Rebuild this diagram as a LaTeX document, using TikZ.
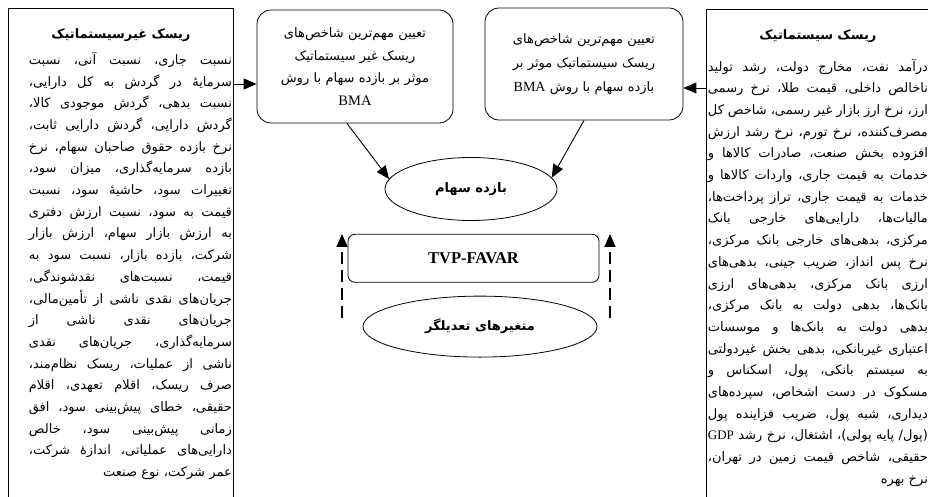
\documentclass[tikz,border=0pt]{standalone}
\usepackage{fontspec}
\setmainfont{Liberation Serif}
\newfontfamily\fa[Script=Arabic]{DejaVu Sans}
\TeXXeTstate=1
\usetikzlibrary{positioning, shapes.geometric, arrows.meta}

\newlength\padl
\newcommand\fatext[1]{\beginR#1\endR}
\newcommand\enword[1]{\beginL{\rmfamily#1}\endL{}}
\newcommand\faline[1]{\hbox to\linewidth{\spaceskip=.25em plus 1fil minus .08em\hskip\padl\beginR#1\endR}}
\newcommand\falast[1]{\hbox to\linewidth{\hfill\beginR#1\endR\rule[-30pt]{0pt}{0pt}}}
\newcommand\fahead[2]{\hbox to\linewidth{\rule{0pt}{20pt}\hfil{\bfseries\beginR#1\endR}\hfil}\vskip#2}

\begin{document}
\begin{tikzpicture}[x=1pt, y=-1pt,
  side node/.style={draw, line width=0.8pt, anchor=north west, text width=222pt,
    inner xsep=1.5pt, inner ysep=10pt, font=\fa\fontsize{13}{21.7}\selectfont,
    execute at begin node={\setlength\padl{#1}}},
  index node/.style={draw, line width=0.8pt, rounded corners=14pt, text width=186pt,
    align=center, font=\fa\fontsize{13}{22.5}\selectfont},
  oval node/.style={ellipse, draw, line width=0.8pt, font=\fa\bfseries\fontsize{13}{15}\selectfont},
  arr/.style={-{Triangle[length=13pt,width=11pt]}, line width=0.9pt},
  dash arr/.style={arr, line width=1.4pt, dash pattern=on 12pt off 6pt}]

\useasboundingbox (0,0) rectangle (928,497);

\node[side node=19pt] (unsys) at (8,8) {%
  \fahead{ریسک غیرسیستماتیک}{4.3pt}
  \faline{نسبت جاری، نسبت آنی، نسبت}
  \faline{سرمایهٔ در گردش به کل دارایی،}
  \faline{نسبت بدهی، گردش موجودی کالا،}
  \faline{گردش دارایی، گردش دارایی ثابت،}
  \faline{نرخ بازده حقوق صاحبان سهام، نرخ}
  \faline{بازده سرمایه‌گذاری، میزان سود،}
  \faline{تغییرات سود، حاشیهٔ سود، نسبت}
  \faline{قیمت به سود، نسبت ارزش دفتری}
  \faline{به ارزش بازار سهام، ارزش بازار}
  \faline{شرکت، بازده بازار، نسبت سود به}
  \faline{قیمت، نسبت‌های نقدشوندگی،}
  \faline{جریان‌های نقدی ناشی از تأمین‌مالی،}
  \faline{جریان‌های نقدی ناشی از}
  \faline{سرمایه‌گذاری، جریان‌های نقدی}
  \faline{ناشی از عملیات، ریسک نظام‌مند،}
  \faline{صرف ریسک، اقلام تعهدی، اقلام}
  \faline{حقیقی، خطای پیش‌بینی سود، افق}
  \faline{زمانی پیش‌بینی سود، خالص}
  \faline{دارایی‌های عملیاتی، اندازهٔ شرکت،}
  \falast{عمر شرکت، نوع صنعت}};

\node[side node=0pt, text width=220pt] (sys) at (706,9) {%
  \fahead{ریسک سیستماتیک}{10pt}
  \faline{درآمد نفت، مخارج دولت، رشد تولید}
  \faline{ناخالص داخلی، قیمت طلا، نرخ رسمی}
  \faline{ارز، نرخ ارز بازار غیر رسمی، شاخص کل}
  \faline{مصرف‌کننده، نرخ تورم، نرخ رشد ارزش}
  \faline{افزوده بخش صنعت، صادرات کالاها و}
  \faline{خدمات به قیمت جاری، واردات کالاها و}
  \faline{خدمات به قیمت جاری، تراز پرداخت‌ها،}
  \faline{مالیات‌ها، دارایی‌های خارجی بانک}
  \faline{مرکزی، بدهی‌های خارجی بانک مرکزی،}
  \faline{نرخ پس انداز، ضریب جینی، بدهی‌های}
  \faline{ارزی بانک مرکزی، بدهی‌های ارزی}
  \faline{بانک‌ها، بدهی دولت به بانک مرکزی،}
  \faline{بدهی دولت به بانک‌ها و موسسات}
  \faline{اعتباری غیربانکی، بدهی بخش غیردولتی}
  \faline{به سیستم بانکی، پول، اسکناس و}
  \faline{مسکوک در دست اشخاص، سپرده‌های}
  \faline{دیداری، شبه پول، ضریب فزاینده پول}
  \faline{(پول/ پایه پولی)، اشتغال، نرخ رشد \enword{GDP}}
  \faline{حقیقی، شاخص قیمت زمین در تهران،}
  \falast{نرخ بهره}};

\node[index node, minimum width=196pt, minimum height=113pt] (midl) at (355,66.5) {%
  \fatext{تعیین مهم‌ترین شاخص‌های}\\
  \fatext{ریسک غیر سیستماتیک}\\
  \fatext{موثر بر بازده سهام با روش}\\
  {\rmfamily\fontsize{14.5}{16}\selectfont BMA}};

\node[index node, minimum width=198pt, minimum height=112pt, font=\fa\fontsize{13}{24}\selectfont] (midr) at (584,64) {%
  \fatext{تعیین مهم‌ترین شاخص‌های}\\
  \fatext{ریسک سیستماتیک موثر بر}\\
  \fatext{بازده سهام با روش \enword{\fontsize{14}{16}\selectfont BMA}}};

\node[oval node, minimum width=172pt, minimum height=63pt] (bazdeh) at (471,189) {\fatext{بازده سهام}};

\node[draw, line width=0.8pt, rounded corners=7pt, minimum width=251pt, minimum height=48pt,
  font=\bfseries\fontsize{16.5}{18}\selectfont, below=13pt of bazdeh, xshift=2.5pt] (tvp) {TVP-FAVAR};

\node[oval node, minimum width=234pt, minimum height=61pt, below=13pt of tvp, xshift=6.5pt] (moder) {\fatext{متغیرهای تعدیلگر}};

\coordinate (la) at ([yshift=-17.5pt]midl.west);
\coordinate (ra) at ([yshift=-24pt]midr.east);
\coordinate (dl) at (342,318);
\coordinate (dr) at (610,318);

\draw[arr] (unsys.east |- la) -- (la);
\draw[arr] (sys.west |- ra) -- (ra);
\draw[arr] ([xshift=-8pt]midl.south) -- (bazdeh.173);
\draw[arr] (midr.south) -- (bazdeh.8);
\draw[dash arr] (dl) -- (dl |- tvp.north);
\draw[dash arr] (dr) -- (dr |- tvp.north);

\end{tikzpicture}
\end{document}
